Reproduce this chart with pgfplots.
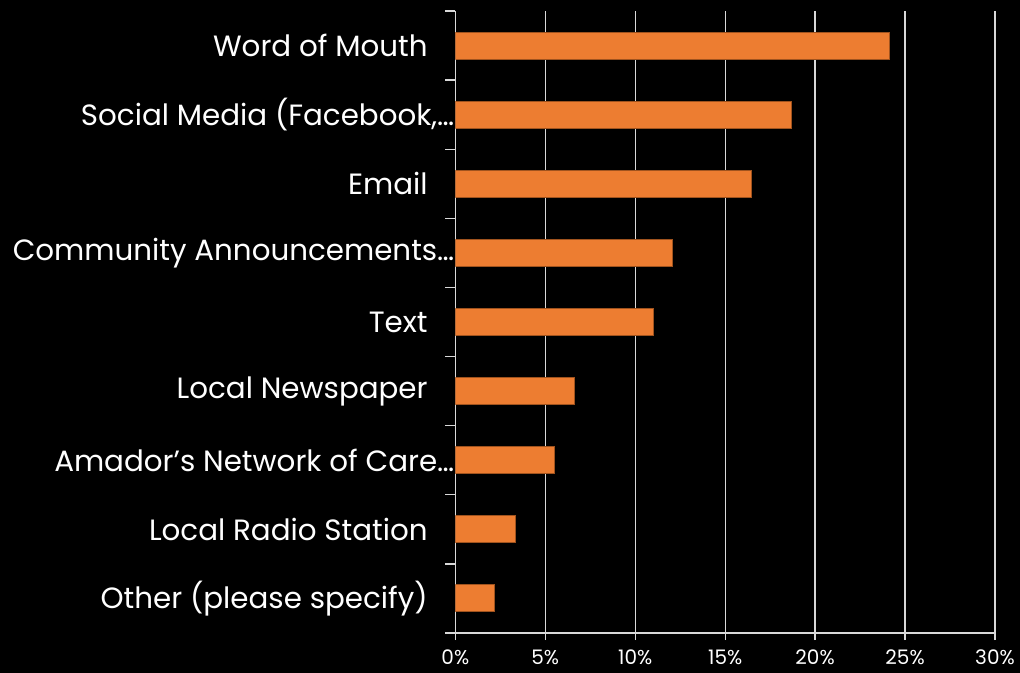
\documentclass[border=0pt]{standalone}
\usepackage{pgfplots}
\pgfplotsset{compat=1.18}
\usepackage{fontspec}
\setmainfont{Poppins}
\definecolor{barorange}{HTML}{ED7D31}
\definecolor{baredge}{HTML}{A0531E}
\definecolor{gridc}{HTML}{D9D9D9}
\begin{document}
\begin{tikzpicture}[x=1pt,y=1pt]
\fill[black] (0,0) rectangle (765,504.75);
\useasboundingbox (0,0) rectangle (765,504.75);
\begin{axis}[
  at={(341.5pt,30pt)}, anchor=south west,
  width=404.75pt, height=466.5pt, scale only axis,
  xbar, bar width=20.25pt,
  xmin=0, xmax=30, ymin=0.5, ymax=9.5, y dir=reverse,
  axis line style={gridc, line width=1pt},
  axis x line*=bottom, axis y line*=left,
  xtick={0,5,...,30},
  xticklabel={\pgfmathprintnumber{\tick}\%},
  xmajorgrids, grid style={gridc, line width=1pt},
  tick align=outside,
  major tick length=5.25pt,
  minor tick length=7.5pt,
  xtick style={gridc, line width=1pt},
  ytick={1,...,9},
  major y tick style={draw=none},
  minor ytick={0.5,1.5,...,9.5},
  minor y tick style={draw=gridc, line width=1pt},
  yticklabels={{Word of Mouth\kern20pt},
    {Social Media (Facebook,…},
    {Email\kern20pt},
    {Community Announcements…},
    {Text\kern20pt},
    {Local Newspaper\kern20pt},
    {Amador's Network of Care…},
    {Local Radio Station\kern20pt},
    {Other (please specify)\kern20pt}},
  yticklabel style={font=\fontsize{22}{24}\selectfont, text=white, xshift=8pt},
  xticklabel style={font=\fontsize{15}{18}\selectfont, text=white, inner sep=0pt, yshift=-7pt},
  /pgf/number format/assume math mode=true,
]
\addplot[fill=barorange, draw=baredge, line width=0.75pt] coordinates {
  (24.15,1) (18.67,2) (16.48,3) (12.08,4) (10.99,5) (6.61,6) (5.52,7) (3.32,8) (2.20,9)
};
\end{axis}
\end{tikzpicture}
\end{document}
